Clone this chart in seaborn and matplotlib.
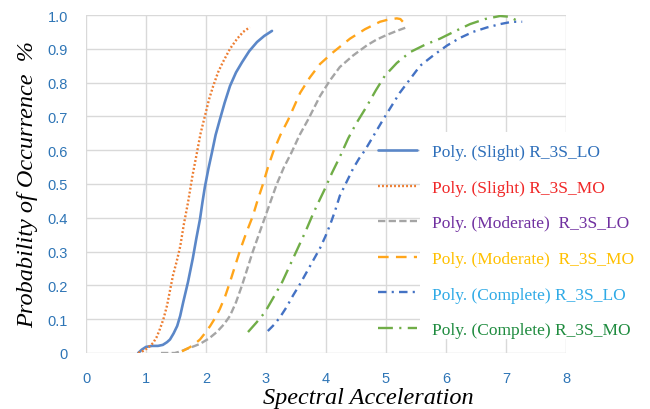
import matplotlib
matplotlib.use("Agg")
import matplotlib.pyplot as plt
from matplotlib.patches import Rectangle
import seaborn as sns

# Polynomial fragility trendlines: spectral acceleration vs probability
slight_lo_x = [0.87, 0.93, 1.0, 1.1, 1.2, 1.28, 1.35, 1.4, 1.46, 1.52, 1.57, 1.62, 1.66, 1.7, 1.74, 1.78,
               1.84, 1.9, 1.94, 1.98, 2.04, 2.1, 2.16, 2.23, 2.31, 2.4, 2.5, 2.6, 2.72, 2.85, 2.97, 3.1]
slight_lo_y = [0.0, 0.01, 0.018, 0.021, 0.021, 0.024, 0.032, 0.04, 0.058, 0.08, 0.11, 0.15, 0.18, 0.21, 0.245, 0.28,
               0.34, 0.396, 0.445, 0.49, 0.545, 0.594, 0.645, 0.69, 0.74, 0.79, 0.83, 0.86, 0.893, 0.92, 0.938, 0.953]

slight_mo_x = [0.87, 0.95, 1.03, 1.12, 1.18, 1.23, 1.29, 1.35, 1.4, 1.45, 1.51, 1.57, 1.63, 1.7, 1.77,
               1.85, 1.91, 1.98, 2.05, 2.12, 2.2, 2.28, 2.4, 2.52, 2.62, 2.73]
slight_mo_y = [0.0, 0.006, 0.015, 0.03, 0.048, 0.07, 0.1, 0.14, 0.185, 0.23, 0.27, 0.315, 0.38, 0.445, 0.52,
               0.594, 0.65, 0.70, 0.75, 0.79, 0.83, 0.86, 0.90, 0.93, 0.95, 0.964]

moderate_lo_x = [1.25, 1.48, 1.58, 1.68, 1.8, 1.9, 2.05, 2.18, 2.3, 2.4, 2.5, 2.6, 2.69, 2.78, 2.88, 2.98,
                 3.08, 3.18, 3.3, 3.43, 3.56, 3.7, 3.8, 3.9, 4.06, 4.23, 4.45, 4.68, 4.84, 5.0, 5.18, 5.35]
moderate_lo_y = [0.0, 0.0, 0.005, 0.012, 0.02, 0.027, 0.043, 0.062, 0.085, 0.11, 0.15, 0.2, 0.25, 0.30, 0.35, 0.40,
                 0.45, 0.5, 0.55, 0.595, 0.645, 0.69, 0.725, 0.76, 0.805, 0.846, 0.88, 0.91, 0.927, 0.94, 0.953, 0.964]

moderate_mo_x = [1.6, 1.73, 1.82, 1.9, 1.98, 2.07, 2.15, 2.23, 2.32, 2.4, 2.48, 2.57, 2.67, 2.78, 2.86, 2.95,
                 3.03, 3.12, 3.24, 3.37, 3.47, 3.57, 3.73, 3.9, 4.12, 4.4, 4.65, 4.9, 5.05, 5.18, 5.24, 5.28]
moderate_mo_y = [0.005, 0.017, 0.028, 0.04, 0.058, 0.08, 0.103, 0.13, 0.168, 0.21, 0.255, 0.305, 0.355, 0.405, 0.452, 0.5,
                 0.548, 0.595, 0.645, 0.69, 0.73, 0.77, 0.815, 0.855, 0.89, 0.93, 0.958, 0.98, 0.987, 0.99, 0.988, 0.98]

complete_lo_x = [3.03, 3.13, 3.23, 3.34, 3.45, 3.57, 3.68, 3.79, 3.9, 3.99, 4.07, 4.15, 4.23, 4.34, 4.45, 4.55,
                 4.65, 4.8, 4.95, 5.09, 5.23, 5.4, 5.57, 5.8, 6.02, 6.23, 6.45, 6.68, 6.9, 7.1, 7.27]
complete_lo_y = [0.065, 0.083, 0.105, 0.135, 0.17, 0.205, 0.24, 0.275, 0.31, 0.345, 0.38, 0.42, 0.465, 0.505, 0.545, 0.575,
                 0.6, 0.645, 0.69, 0.73, 0.77, 0.81, 0.85, 0.882, 0.91, 0.932, 0.95, 0.963, 0.973, 0.98, 0.98]

complete_mo_x = [2.7, 2.84, 2.98, 3.12, 3.27, 3.4, 3.53, 3.66, 3.78, 3.88, 3.98, 4.1, 4.23, 4.37, 4.5, 4.68,
                 4.83, 4.98, 5.18, 5.4, 5.65, 5.9, 6.15, 6.4, 6.65, 6.9, 7.05, 7.2]
complete_mo_y = [0.062, 0.09, 0.12, 0.163, 0.21, 0.26, 0.31, 0.36, 0.41, 0.448, 0.485, 0.533, 0.58, 0.635, 0.678, 0.73,
                 0.777, 0.82, 0.858, 0.89, 0.912, 0.93, 0.952, 0.973, 0.988, 0.997, 0.995, 0.982]

series_labels = [
    "Poly. (Slight) R_3S_LO",
    "Poly. (Slight) R_3S_MO",
    "Poly. (Moderate)  R_3S_LO",
    "Poly. (Moderate)  R_3S_MO",
    "Poly. (Complete) R_3S_LO",
    "Poly. (Complete) R_3S_MO",
]

x_ticks = [0, 1, 2, 3, 4, 5, 6, 7, 8]
y_ticks = [0, 0.1, 0.2, 0.3, 0.4, 0.5, 0.6, 0.7, 0.8, 0.9, 1.0]
y_tick_labels = ["0", "0.1", "0.2", "0.3", "0.4", "0.5", "0.6", "0.7", "0.8", "0.9", "1.0"]

sns.set_theme(style="white")

line_colors = ["#5B87C8", "#ED7D31", "#A5A5A5", "#FFA51A", "#4472C4", "#70AD47"]
label_colors = ["#2E6FBA", "#F02828", "#7030A0", "#FFC000", "#2FAAE6", "#1E8B3E"]
line_styles = [
    "-",
    (0, (0.8, 0.9)),
    (0, (3.1, 1.4)),
    (0, (4.5, 3.1)),
    (0, (3.6, 2.2, 0.9, 2.2)),
    (0, (6.3, 2.7, 0.9, 2.7)),
]
line_widths = [1.9, 1.7, 1.7, 1.7, 1.7, 1.7]

series = [
    (slight_lo_x, slight_lo_y),
    (slight_mo_x, slight_mo_y),
    (moderate_lo_x, moderate_lo_y),
    (moderate_mo_x, moderate_mo_y),
    (complete_lo_x, complete_lo_y),
    (complete_mo_x, complete_mo_y),
]

fig = plt.figure(figsize=(6.5, 4.1), dpi=100)
ax = fig.add_axes([86 / 650, 56 / 410, 480 / 650, 338 / 410])

for (xs, ys), lab, col, ls, lw in zip(series, series_labels, line_colors, line_styles, line_widths):
    sns.lineplot(x=xs, y=ys, ax=ax, color=col, linestyle=ls, linewidth=lw,
                 label=lab, sort=False, estimator=None, zorder=3)

ax.set_xlim(0, 8)
ax.set_ylim(0, 1.0)
ax.set_xticks(x_ticks)
ax.set_xticklabels([str(t) for t in x_ticks])
ax.set_yticks(y_ticks)
ax.set_yticklabels(y_tick_labels)

ax.set_axisbelow(True)
ax.grid(True, color="#D9D9D9", linewidth=1.0)
for sp in ax.spines.values():
    sp.set_visible(False)

ax.tick_params(axis="both", length=0, colors="#2E75B6")
ax.tick_params(axis="y", pad=13)
ax.tick_params(axis="x", pad=13)
for t in ax.get_xticklabels() + ax.get_yticklabels():
    t.set_fontfamily("Liberation Sans")
    t.set_fontsize(10.5)
    t.set_color("#2E75B6")

label_font = dict(family="Liberation Serif", style="italic", size=17.5, color="black")
ax.set_xlabel("Spectral Acceleration", **label_font)
ax.xaxis.set_label_coords((368 - 86) / 480, -0.1)
ax.set_ylabel("Probability of Occurrence  %", **label_font)
ax.yaxis.set_label_coords(-0.1, 0.5)

# white panel behind the legend text
ax.add_patch(Rectangle((0.696, 0.041), 0.31, 0.613, transform=ax.transAxes,
                       facecolor="white", edgecolor="none", zorder=1, clip_on=False))

leg = ax.legend(loc="upper left", bbox_to_anchor=(378 / 650, (410 - 145) / 410),
                bbox_transform=fig.transFigure, frameon=False,
                prop={"family": "Liberation Serif", "size": 12.5},
                handlelength=2.25, handletextpad=0.85, labelspacing=1.12,
                borderpad=0, borderaxespad=0)
for txt, c in zip(leg.get_texts(), label_colors):
    txt.set_color(c)

fig.savefig("out.png", dpi=100, facecolor="white")
